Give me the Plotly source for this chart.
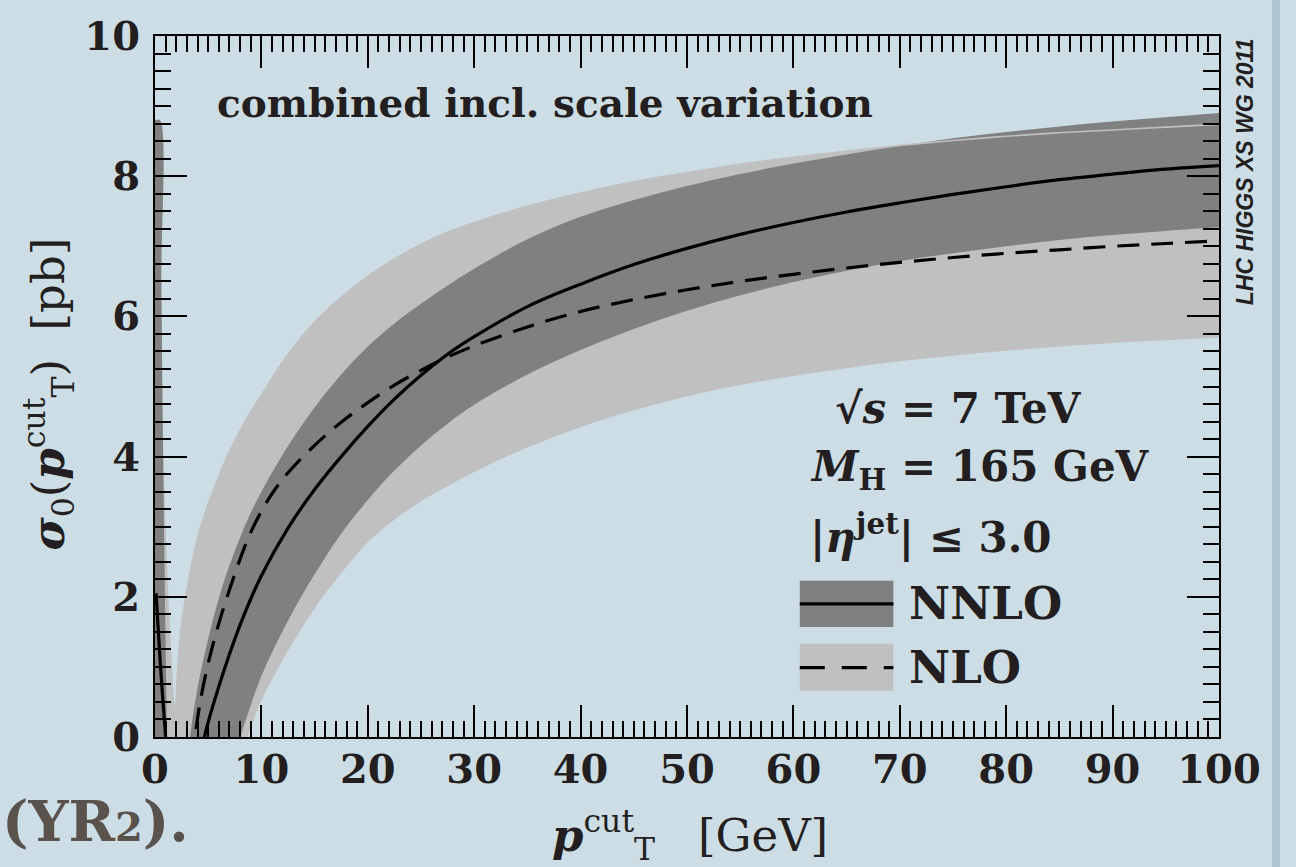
import plotly.graph_objects as go

# ---- NNLO central value (solid) ----
nnlo_x = [0.1, 0.5, 1.0, 1.5, 2.5, 3.5, 4.64, 6, 8, 10, 12.5, 15, 17.5, 20, 22.5, 25, 27.5,
          30, 35, 40, 45, 50, 55, 60, 65, 70, 75, 80, 85, 90, 95, 100]
nnlo_y = [2.05, 1.05, 0.0, -0.9, -1.6, -1.0, 0.0, 0.72, 1.6, 2.3, 2.98, 3.53, 4.0, 4.43, 4.82, 5.16, 5.46,
          5.71, 6.14, 6.46, 6.74, 6.97, 7.17, 7.34, 7.49, 7.62, 7.74, 7.85, 7.95, 8.03, 8.10, 8.15]

# ---- NLO central value (dashed) ----
nlo_x = [3.0, 3.75, 4.25, 5, 6, 7, 8, 9, 10, 11, 12.5, 15, 17.5, 20, 22.5, 25, 27.5,
         30, 35, 40, 45, 50, 55, 60, 65, 70, 75, 80, 85, 90, 95, 100]
nlo_y = [-0.85, 0.0, 0.5, 1.05, 1.62, 2.1, 2.54, 2.92, 3.22, 3.47, 3.77, 4.16, 4.49, 4.77, 5.02, 5.23, 5.42,
         5.58, 5.85, 6.07, 6.24, 6.38, 6.5, 6.6, 6.69, 6.77, 6.84, 6.9, 6.95, 7.0, 7.04, 7.08]

# ---- NNLO scale-variation band ----
nnlo_up_x = [0, 0.45, 0.6, 0.75, 0.9, 1.05, 1.3, 2.0, 2.8, 3.3, 4, 5, 6, 7, 8, 9, 10, 12.5, 15, 17.5, 20,
             22.5, 25, 27.5, 30, 35, 40, 45, 50, 55, 60, 65, 70, 75, 80, 85, 90, 95, 100]
nnlo_up_y = [8.8, 8.8, 6.5, 4.2, 2.4, 0.8, -0.8, -2.0, -1.0, 0.0, 0.7, 1.4, 1.98, 2.45, 2.85, 3.2, 3.5,
             4.15, 4.7, 5.17, 5.57, 5.9, 6.18, 6.44, 6.68, 7.1, 7.42, 7.66, 7.86, 8.03, 8.18,
             8.31, 8.43, 8.54, 8.63, 8.71, 8.78, 8.84, 8.9]
nnlo_lo_x = [0, 3, 5, 6.5, 8, 9, 10, 12.5, 15, 17.5, 20, 22.5, 25, 27.5, 30, 35, 40, 45, 50, 55, 60,
             65, 70, 75, 80, 85, 90, 95, 100]
nnlo_lo_y = [-3.0, -3.0, -1.6, -0.8, 0.0, 0.45, 0.87, 1.66, 2.32, 2.9, 3.38, 3.8, 4.16, 4.47, 4.74, 5.17,
             5.52, 5.82, 6.08, 6.3, 6.49, 6.65, 6.79, 6.9, 7.0, 7.09, 7.16, 7.22, 7.27]

# ---- NLO scale-variation band ----
nlo_up_x = [0.5, 1.0, 1.5, 1.9, 2.35, 3, 4, 5, 6, 7, 8, 9, 10, 12.5, 15, 17.5, 20, 22.5, 25, 27.5, 30,
            35, 40, 45, 50, 55, 60, 65, 70, 75, 80, 85, 90, 95, 100]
nlo_up_y = [-3.0, -1.8, -0.7, 0.3, 1.4, 2.1, 2.84, 3.32, 3.72, 4.07, 4.37, 4.64, 4.88, 5.46, 5.92, 6.27,
            6.57, 6.82, 7.03, 7.2, 7.34, 7.57, 7.76, 7.92, 8.05, 8.17, 8.27, 8.36, 8.44, 8.51, 8.57,
            8.62, 8.66, 8.7, 8.74]
nlo_lo_x = [0.5, 0.8, 1.0, 1.2, 1.5, 1.9, 2.5, 3.5, 5, 7, 8.7, 10, 12, 14, 16, 18, 20, 22.5, 25, 27.5,
            30, 35, 40, 45, 50, 55, 60, 65, 70, 75, 80, 85, 90, 95, 100]
nlo_lo_y = [6.0, 4.0, 3.0, 2.2, 1.3, 0.3, -0.6, -1.2, -1.3, -0.7, 0.0, 0.52, 1.1, 1.6, 2.05, 2.43,
            2.78, 3.1, 3.36, 3.58, 3.78, 4.13, 4.42, 4.66, 4.86, 5.02, 5.15, 5.26, 5.36, 5.44, 5.51,
            5.57, 5.62, 5.66, 5.7]

x_ticks = [0, 10, 20, 30, 40, 50, 60, 70, 80, 90, 100]
y_ticks = [0, 2, 4, 6, 8, 10]

BG = "#cddde5"
DARK = "#808080"
LIGHT = "#c0c0c0"
INK = "#231f20"
SERIF = "DejaVu Serif"

fig = go.Figure()

# NLO band (light grey)
fig.add_trace(go.Scatter(x=nlo_lo_x, y=nlo_lo_y, mode="lines", line=dict(width=0, shape="spline"),
                         hoverinfo="skip", showlegend=False))
fig.add_trace(go.Scatter(x=nlo_up_x, y=nlo_up_y, mode="lines", line=dict(width=0, shape="spline"),
                         fill="tonexty", fillcolor=LIGHT, hoverinfo="skip", showlegend=False))
# NNLO band (dark grey)
fig.add_trace(go.Scatter(x=nnlo_lo_x, y=nnlo_lo_y, mode="lines", line=dict(width=0, shape="spline"),
                         hoverinfo="skip", showlegend=False))
fig.add_trace(go.Scatter(x=nnlo_up_x, y=nnlo_up_y, mode="lines", line=dict(width=0, shape="spline"),
                         fill="tonexty", fillcolor=DARK, hoverinfo="skip", showlegend=False))
# outline of the NLO band's upper edge
fig.add_trace(go.Scatter(x=nlo_up_x, y=nlo_up_y, mode="lines",
                         line=dict(width=1.6, color=LIGHT, shape="spline"),
                         hoverinfo="skip", showlegend=False))
# central curves
fig.add_trace(go.Scatter(x=nnlo_x, y=nnlo_y, mode="lines", name="NNLO",
                         line=dict(width=3.2, color="black", shape="spline"), showlegend=False))
fig.add_trace(go.Scatter(x=nlo_x, y=nlo_y, mode="lines", name="NLO",
                         line=dict(width=3.2, color="black", dash="22px,12px", shape="spline"),
                         showlegend=False))

axis_common = dict(
    showgrid=False, zeroline=False, showline=True, linecolor="black", linewidth=2,
    mirror="allticks", ticks="inside", tickcolor="black", tickwidth=1.5, ticklen=32,
    tickfont=dict(family=SERIF, size=40, color=INK, weight="bold"),
)
fig.update_xaxes(range=[0, 100], tickvals=x_ticks, ticktext=[str(v) for v in x_ticks],
                 minor=dict(dtick=1, ticks="inside", ticklen=16, tickwidth=1.5, tickcolor="black"),
                 ticklabelstandoff=-4, **axis_common)
fig.update_yaxes(range=[0, 10], tickvals=y_ticks, ticktext=[str(v) for v in y_ticks],
                 minor=dict(dtick=0.25, ticks="inside", ticklen=16, tickwidth=1.5, tickcolor="black"),
                 ticklabelstandoff=5, **axis_common)

ann = []
txt = dict(family=SERIF, color=INK)
ann.append(dict(x=5.6, y=9.05, xref="x", yref="y", xanchor="left", yanchor="middle", showarrow=False,
                text="combined incl. scale variation", font=dict(size=39, weight="bold", **txt)))
ann.append(dict(x=63.7, y=4.68, xref="x", yref="y", xanchor="left", yanchor="middle", showarrow=False,
                text="√<i>s</i> = 7 TeV", font=dict(size=42, weight="bold", **txt)))
ann.append(dict(x=61.4, y=3.81, xref="x", yref="y", xanchor="left", yanchor="middle", showarrow=False,
                text="<i>M</i><sub>H</sub> = 165 GeV", font=dict(size=42, weight="bold", **txt)))
ann.append(dict(x=61.4, y=2.89, xref="x", yref="y", xanchor="left", yanchor="middle", showarrow=False,
                text="|<i>η</i><sup>jet</sup>| ≤ 3.0", font=dict(size=42, weight="bold", **txt)))
ann.append(dict(x=70.7, y=1.90, xref="x", yref="y", xanchor="left", yanchor="middle", showarrow=False,
                text="NNLO", font=dict(size=45, weight="bold", **txt)))
ann.append(dict(x=70.7, y=0.99, xref="x", yref="y", xanchor="left", yanchor="middle", showarrow=False,
                text="NLO", font=dict(size=45, weight="bold", **txt)))
# axis titles
ann.append(dict(x=-0.1006, y=0.49, xref="paper", yref="paper", xanchor="center", yanchor="middle",
                showarrow=False, textangle=-90,
                text="<b><i>σ</i></b><sub>0</sub>(<b><i>p</i></b><sup>cut</sup><sub>T</sub>)  [pb]",
                font=dict(size=45, **txt)))
ann.append(dict(x=0.503, y=-0.14, xref="paper", yref="paper", xanchor="center", yanchor="middle",
                showarrow=False,
                text="<b><i>p</i></b><sup>cut</sup><sub>T</sub>   [GeV]",
                font=dict(size=45, **txt)))
# working-group stamp
ann.append(dict(x=1.0244, y=0.807, xref="paper", yref="paper", xanchor="center", yanchor="middle",
                showarrow=False, textangle=-90, text="<b><i>LHC HIGGS XS WG 2011</i></b>",
                font=dict(family="Liberation Sans", size=23, color=INK)))
# report reference
ann.append(dict(x=-0.1457, y=-0.12, xref="paper", yref="paper", xanchor="left", yanchor="middle",
                showarrow=False,
                text="<b>(YR<span style='font-size:40px'>2</span>).</b>",
                font=dict(family=SERIF, size=56, color="#5a534d")))

shapes = []
# legend swatches
shapes.append(dict(type="rect", xref="x", yref="y", x0=60.6, x1=69.4, y0=1.57, y1=2.23,
                   fillcolor=DARK, line=dict(width=0), layer="above"))
shapes.append(dict(type="line", xref="x", yref="y", x0=60.6, x1=69.4, y0=1.90, y1=1.90,
                   line=dict(color="black", width=3.2), layer="above"))
shapes.append(dict(type="rect", xref="x", yref="y", x0=60.6, x1=69.4, y0=0.66, y1=1.33,
                   fillcolor=LIGHT, line=dict(width=0), layer="above"))
shapes.append(dict(type="line", xref="x", yref="y", x0=60.6, x1=69.4, y0=0.99, y1=0.99,
                   line=dict(color="black", width=3.2, dash="25px,17px"), layer="above"))
# page edge strip on the right
shapes.append(dict(type="rect", xref="paper", yref="paper",
                   x0=(1272 - 155) / 1064, x1=(1280 - 155) / 1064, y0=-1, y1=2,
                   fillcolor="#adc6d2", line=dict(width=0), layer="below"))

fig.update_layout(
    width=1296, height=867,
    margin=dict(l=155, r=77, t=28, b=130),
    paper_bgcolor=BG, plot_bgcolor=BG,
    annotations=ann, shapes=shapes, showlegend=False,
)

fig.write_html("out.html")
